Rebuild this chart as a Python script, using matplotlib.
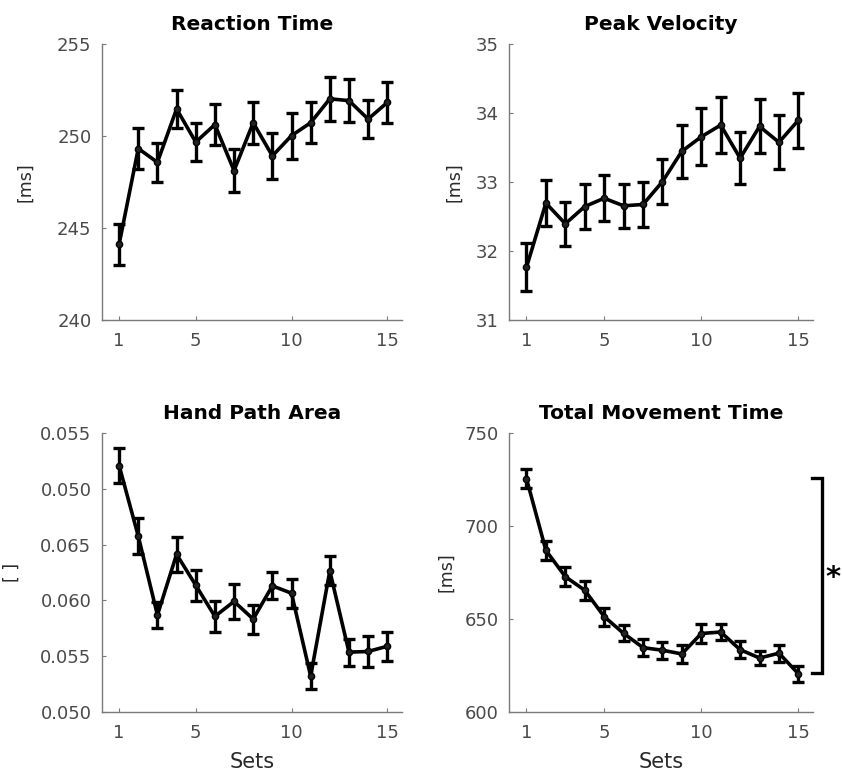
import matplotlib
matplotlib.use("Agg")
import matplotlib.pyplot as plt
import numpy as np

plt.rcParams['font.family'] = ['DejaVu Sans']

sets = list(range(1, 16))
x_ticks = [1, 5, 10, 15]

rt_mean = [244.1, 249.3, 248.55, 251.45, 249.65, 250.6, 248.1, 250.7, 248.9, 250.0, 250.7, 252.0, 251.9, 250.9, 251.8]
rt_err = [1.1, 1.1, 1.05, 1.05, 1.05, 1.1, 1.15, 1.15, 1.25, 1.25, 1.1, 1.2, 1.15, 1.05, 1.1]

pv_mean = [31.76, 32.69, 32.39, 32.64, 32.76, 32.65, 32.67, 33.0, 33.44, 33.65, 33.82, 33.34, 33.8, 33.57, 33.89]
pv_err = [0.35, 0.33, 0.32, 0.33, 0.33, 0.32, 0.32, 0.33, 0.38, 0.41, 0.41, 0.38, 0.39, 0.39, 0.4]

hpa_mean = [0.07211, 0.06577, 0.05869, 0.06414, 0.06137, 0.05857, 0.05991, 0.05833, 0.06131, 0.06065, 0.05321, 0.06265, 0.05536, 0.05542, 0.05589]
hpa_err = [0.0016, 0.0016, 0.0012, 0.0016, 0.0014, 0.0014, 0.0016, 0.0013, 0.0012, 0.0013, 0.0012, 0.0013, 0.0012, 0.0014, 0.0013]
hpa_tick_values = [0.050, 0.055, 0.060, 0.065, 0.070, 0.075]
hpa_tick_labels = ['0.050', '0.055', '0.060', '0.065', '0.050', '0.055']

tmt_mean = [725.6, 687.0, 672.8, 665.5, 651.3, 642.3, 634.6, 633.2, 631.2, 642.2, 643.0, 633.5, 629.0, 631.6, 620.5]
tmt_err = [5.2, 5.2, 5.0, 5.0, 4.8, 4.3, 4.5, 4.5, 4.8, 5.0, 4.4, 4.5, 4.0, 4.5, 4.4]

panels = [
    dict(title='Reaction Time', mean=rt_mean, err=rt_err, ylim=(240, 255),
         yticks=[240, 245, 250, 255], yticklabels=['240', '245', '250', '255'], ylabel='[ms]',
         pos=[0.121, 0.589, 0.356, 0.355], xlabel=None, ylx=-0.225),
    dict(title='Peak Velocity', mean=pv_mean, err=pv_err, ylim=(31, 35),
         yticks=[31, 32, 33, 34, 35], yticklabels=['31', '32', '33', '34', '35'], ylabel='[ms]',
         pos=[0.6045, 0.589, 0.361, 0.355], xlabel=None, ylx=-0.15),
    dict(title='Hand Path Area', mean=hpa_mean, err=hpa_err, ylim=(0.050, 0.075),
         yticks=hpa_tick_values, yticklabels=hpa_tick_labels, ylabel='[ ]',
         pos=[0.121, 0.085, 0.356, 0.358], xlabel='Sets', ylx=-0.27),
    dict(title='Total Movement Time', mean=tmt_mean, err=tmt_err, ylim=(600, 750),
         yticks=[600, 650, 700, 750], yticklabels=['600', '650', '700', '750'], ylabel='[ms]',
         pos=[0.6045, 0.085, 0.361, 0.358], xlabel='Sets', ylx=-0.178),
]

fig = plt.figure(figsize=(8.42, 7.78), dpi=100)
axes = []
for p in panels:
    ax = fig.add_axes(p['pos'])
    ax.errorbar(sets, p['mean'], yerr=p['err'], color='black', lw=2.6, elinewidth=2.4,
                capsize=4.5, capthick=2.4, marker='o', markersize=4.5,
                markerfacecolor='#222222', markeredgecolor='black')
    ax.set_xlim(0.1, 15.75)
    ax.set_ylim(*p['ylim'])
    ax.set_xticks(x_ticks)
    ax.set_yticks(p['yticks'])
    ax.set_yticklabels(p['yticklabels'])
    ax.set_title(p['title'], fontsize=14.5, fontweight='bold', pad=10)
    for s in ['top', 'right']:
        ax.spines[s].set_visible(False)
    for s in ['left', 'bottom']:
        ax.spines[s].set_color('#7a7a7a')
        ax.spines[s].set_linewidth(1.0)
    ax.tick_params(direction='in', length=3, width=0.8, color='#7a7a7a',
                   labelcolor='#4a4a4a', labelsize=13)
    ax.tick_params(axis='y', pad=7.5)
    ax.tick_params(axis='x', pad=9)
    ax.set_ylabel(p['ylabel'], fontsize=12.5, color='#2a2a2a')
    ax.yaxis.set_label_coords(p['ylx'], 0.5)
    if p['xlabel']:
        ax.set_xlabel(p['xlabel'], fontsize=15, color='#2a2a2a', labelpad=7)
    axes.append(ax)

# significance bracket on Total Movement Time
ax = axes[3]
bracket_top = 726
bracket_bottom = 621
bx = 16.2
cap = 0.5
ax.plot([bx - cap, bx, bx, bx - cap], [bracket_top, bracket_top, bracket_bottom, bracket_bottom],
        color='black', lw=2.4, clip_on=False, solid_joinstyle='miter')
ax.text(bx + 0.6, 672, '*', fontsize=21, fontweight='bold', ha='center', va='center',
        clip_on=False)

fig.savefig('out.png', dpi=100)
